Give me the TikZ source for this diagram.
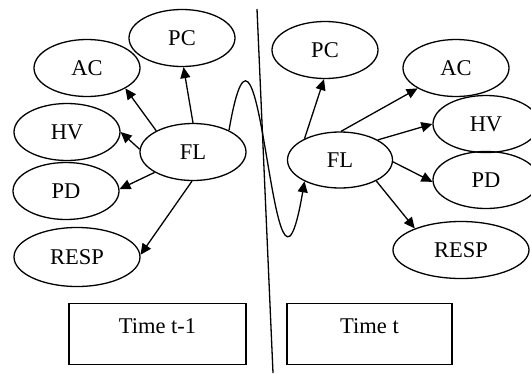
\documentclass[tikz,border=0pt]{standalone}
\usepackage{fontspec}
\setmainfont{Liberation Serif}
\usetikzlibrary{arrows.meta, shapes.geometric}

\begin{document}
\begin{tikzpicture}[x=1pt, y=-1pt,
          var/.style={ellipse, draw=black, line width=1.3pt, inner sep=0pt,
            minimum width=106pt, minimum height=57pt, font=\fontsize{22.5}{26}\selectfont},
          slice/.style={rectangle, draw=black, line width=1.3pt, inner xsep=0pt, inner ysep=0pt,
            minimum width=177pt, text height=30pt, text depth=31pt, font=\fontsize{22.5}{26}\selectfont},
          dep/.style={-{Triangle[length=11pt, width=10pt]}, line width=1.3pt}]
        \clip (0,0) rectangle (531,373);
        % time t-1
        \node[var] (pc0) at (182,38) {PC};
        \node[var] (ac0) at (87,68) {AC};
        \node[var] (hv0) at (67,132) {HV};
        \node[var] (fl0) at (193,152) {FL};
        \node[var] (pd0) at (66,191) {PD};
        \node[var, minimum width=126pt, minimum height=59pt] (resp0) at (77,257) {RESP};
        \draw[dep] (fl0.90)--(pc0.273);
        \draw[dep] (fl0.150)--(ac0.332);
        \draw[dep] (fl0.177)--(hv0.0);
        \draw[dep] (fl0.208)--(pd0.2);
        \draw[dep] (fl0.268)--(resp0.2);
        % time t
        \node[var] (pc1) at (325,50) {PC};
        \node[var] (ac1) at (456,68) {AC};
        \node[var] (hv1) at (486,124) {HV};
        \node[var, minimum width=105pt, minimum height=56pt] (fl1) at (340,160) {FL};
        \node[var] (pd1) at (486,180) {PD};
        \node[var, minimum width=136pt] (resp1) at (461,250) {RESP};
        \draw[dep] (fl1.149)--(pc1.268);
        \draw[dep] (fl1.88)--(ac1.208);
        \draw[dep] (fl1.28)--(hv1.180);
        \draw[dep] (fl1.358)--(pd1.182);
        \draw[dep] (fl1.330)--(resp1.155);
        % FL carried over from t-1 to t
        \draw[dep] (fl0.31) .. controls (262,-60) and (272,372) .. (fl1.211);
        % divider and slice labels
        \coordinate (top) at (257,9);
        \coordinate (bot) at (273,373);
        \draw[line width=1.3pt] (top)--(bot);
        \node[slice] (t0) at (157.5,334) {Time t-1};
        \node[slice, minimum width=165pt] (t1) at (369.5,334) {Time t};
      \end{tikzpicture}
\end{document}
